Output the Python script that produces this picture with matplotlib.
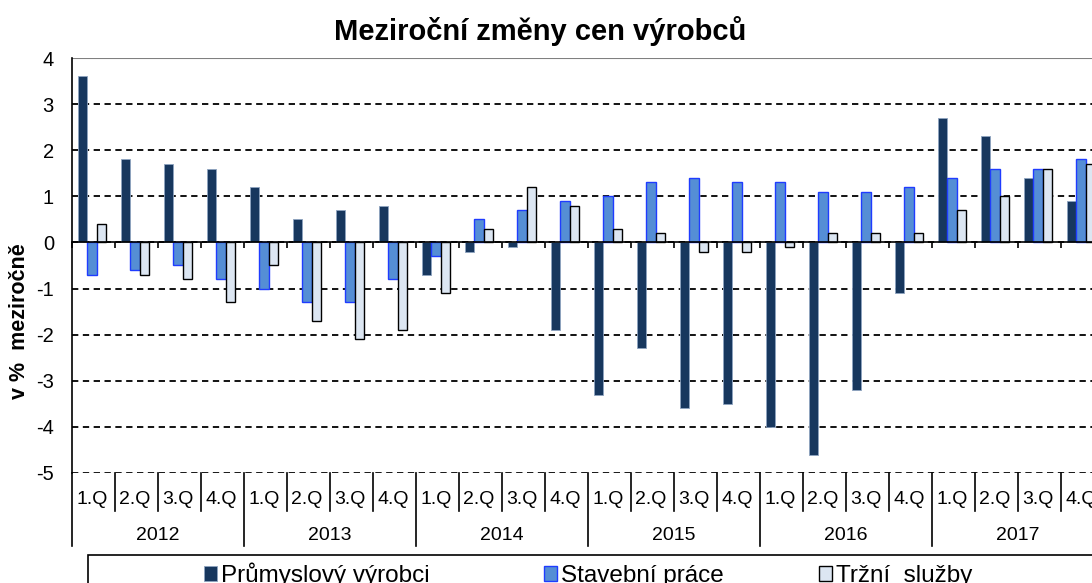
import numpy as np
import matplotlib
matplotlib.use('Agg')
import matplotlib.pyplot as plt
import matplotlib.transforms as mtransforms
from matplotlib.patches import Rectangle

plt.rcParams['font.family'] = ['Liberation Sans', 'DejaVu Sans']
plt.rcParams['axes.unicode_minus'] = False

# data (meziroční změny v %), 2012 1.Q .. 2017 4.Q
years = ['2012', '2013', '2014', '2015', '2016', '2017']
quarters = ['1.Q', '2.Q', '3.Q', '4.Q']
prumysl = [3.6, 1.8, 1.7, 1.6, 1.2, 0.5, 0.7, 0.8, -0.7, -0.2, -0.1, -1.9,
           -3.3, -2.3, -3.6, -3.5, -4.0, -4.6, -3.2, -1.1, 2.7, 2.3, 1.4, 0.9]
stavebni = [-0.7, -0.6, -0.5, -0.8, -1.0, -1.3, -1.3, -0.8, -0.3, 0.5, 0.7, 0.9,
            1.0, 1.3, 1.4, 1.3, 1.3, 1.1, 1.1, 1.2, 1.4, 1.6, 1.6, 1.8]
sluzby = [0.4, -0.7, -0.8, -1.3, -0.5, -1.7, -2.1, -1.9, -1.1, 0.3, 1.2, 0.8,
          0.3, 0.2, -0.2, -0.2, -0.1, 0.2, 0.2, 0.2, 0.7, 1.0, 1.6, 1.7]
labels = ['Průmyslový výrobci', 'Stavební práce', 'Tržní  služby']

W, H = 1092, 583
fig = plt.figure(figsize=(W / 100, H / 100), dpi=100)
# osa je schvalne sirsi nez obrazek - posledni ctvrtleti je oriznute jako v originalu
ax = fig.add_axes([72 / W, (H - 473) / H, 1032 / W, (473 - 58) / H])

x = np.arange(len(prumysl))
b1 = ax.bar(x - 0.25, prumysl, 0.22, color='#17375e', edgecolor='#8ea4c0', linewidth=0.6, zorder=3)
b2 = ax.bar(x - 0.03, stavebni, 0.22, color='#558ed5', edgecolor='#1f3cff', linewidth=1.0, zorder=3)
b3 = ax.bar(x + 0.19, sluzby, 0.22, color='#dce6f2', edgecolor='black', linewidth=1.0, zorder=3)

ax.set_xlim(-0.5, len(x) - 0.5)
ax.set_ylim(-5, 4)
ax.set_yticks(range(-5, 5))
ax.tick_params(axis='y', labelsize=14.5, length=0, pad=13)
ax.yaxis.grid(True, color='black', linestyle=(0, (3.5, 2.5)), linewidth=1.3)
ax.set_axisbelow(True)

# nulova osa s ticky na hranicich ctvrtleti
ax.spines['bottom'].set_position(('data', 0))
ax.spines['bottom'].set_linewidth(1.2)
ax.spines['bottom'].set_zorder(4)
ax.set_xticks(np.arange(len(x) + 1) - 0.5)
ax.set_xticklabels([])
ax.tick_params(axis='x', direction='out', length=4.5, width=1.2)
ax.spines['left'].set_linewidth(1.2)
ax.spines['top'].set_visible(False)
ax.spines['right'].set_visible(False)
ax.axhline(-5, color='#808080', linewidth=0.8, zorder=1)
ax.axhline(4, color='#808080', linewidth=0.8, zorder=1)

# kategoriova osa pod grafem
trans = mtransforms.blended_transform_factory(ax.transData, ax.transAxes)
axh = 473 - 58
for k in range(len(x) + 1):
    bottom = 546 if k % 4 == 0 else 511
    ax.plot([k - 0.5, k - 0.5], [0, -(bottom - 473) / axh], color='black', lw=1.2,
            transform=trans, clip_on=False)
for i in range(len(x)):
    ax.text(i - 0.04, -(500 - 473) / axh, quarters[i % 4], transform=trans,
            ha='center', va='center', fontsize=14)
for j, yr in enumerate(years):
    ax.text(4 * j + 1.5, -(535 - 473) / axh, yr, transform=trans,
            ha='center', va='center', fontsize=14)

fig.text(540 / W, 1 - 40 / H, 'Meziroční změny cen výrobců', ha='center', va='baseline',
         fontsize=21, fontweight='bold')
fig.text(20 / W, 1 - 321 / H, 'v %  meziročně', rotation=90, ha='center', va='center',
         fontsize=15.5, fontweight='bold')

# legenda - ramecek + tri polozky (Excel je rozmistuje nerovnomerne)
fig.add_artist(Rectangle((88 / W, -0.05), 1.0, 0.05 + (H - 555) / H, transform=fig.transFigure,
                         fill=False, edgecolor='black', linewidth=1.2))
for handle, lab, xpos in zip([b1, b2, b3], labels, [204, 544, 819]):
    fig.legend([handle], [lab], loc='lower left', bbox_to_anchor=(xpos / W, 1 - 587 / H),
               frameon=False, fontsize=17.5, handlelength=0.55, handleheight=0.55,
               handletextpad=0.15, borderpad=0, borderaxespad=0)

fig.savefig('out.png', dpi=100)
